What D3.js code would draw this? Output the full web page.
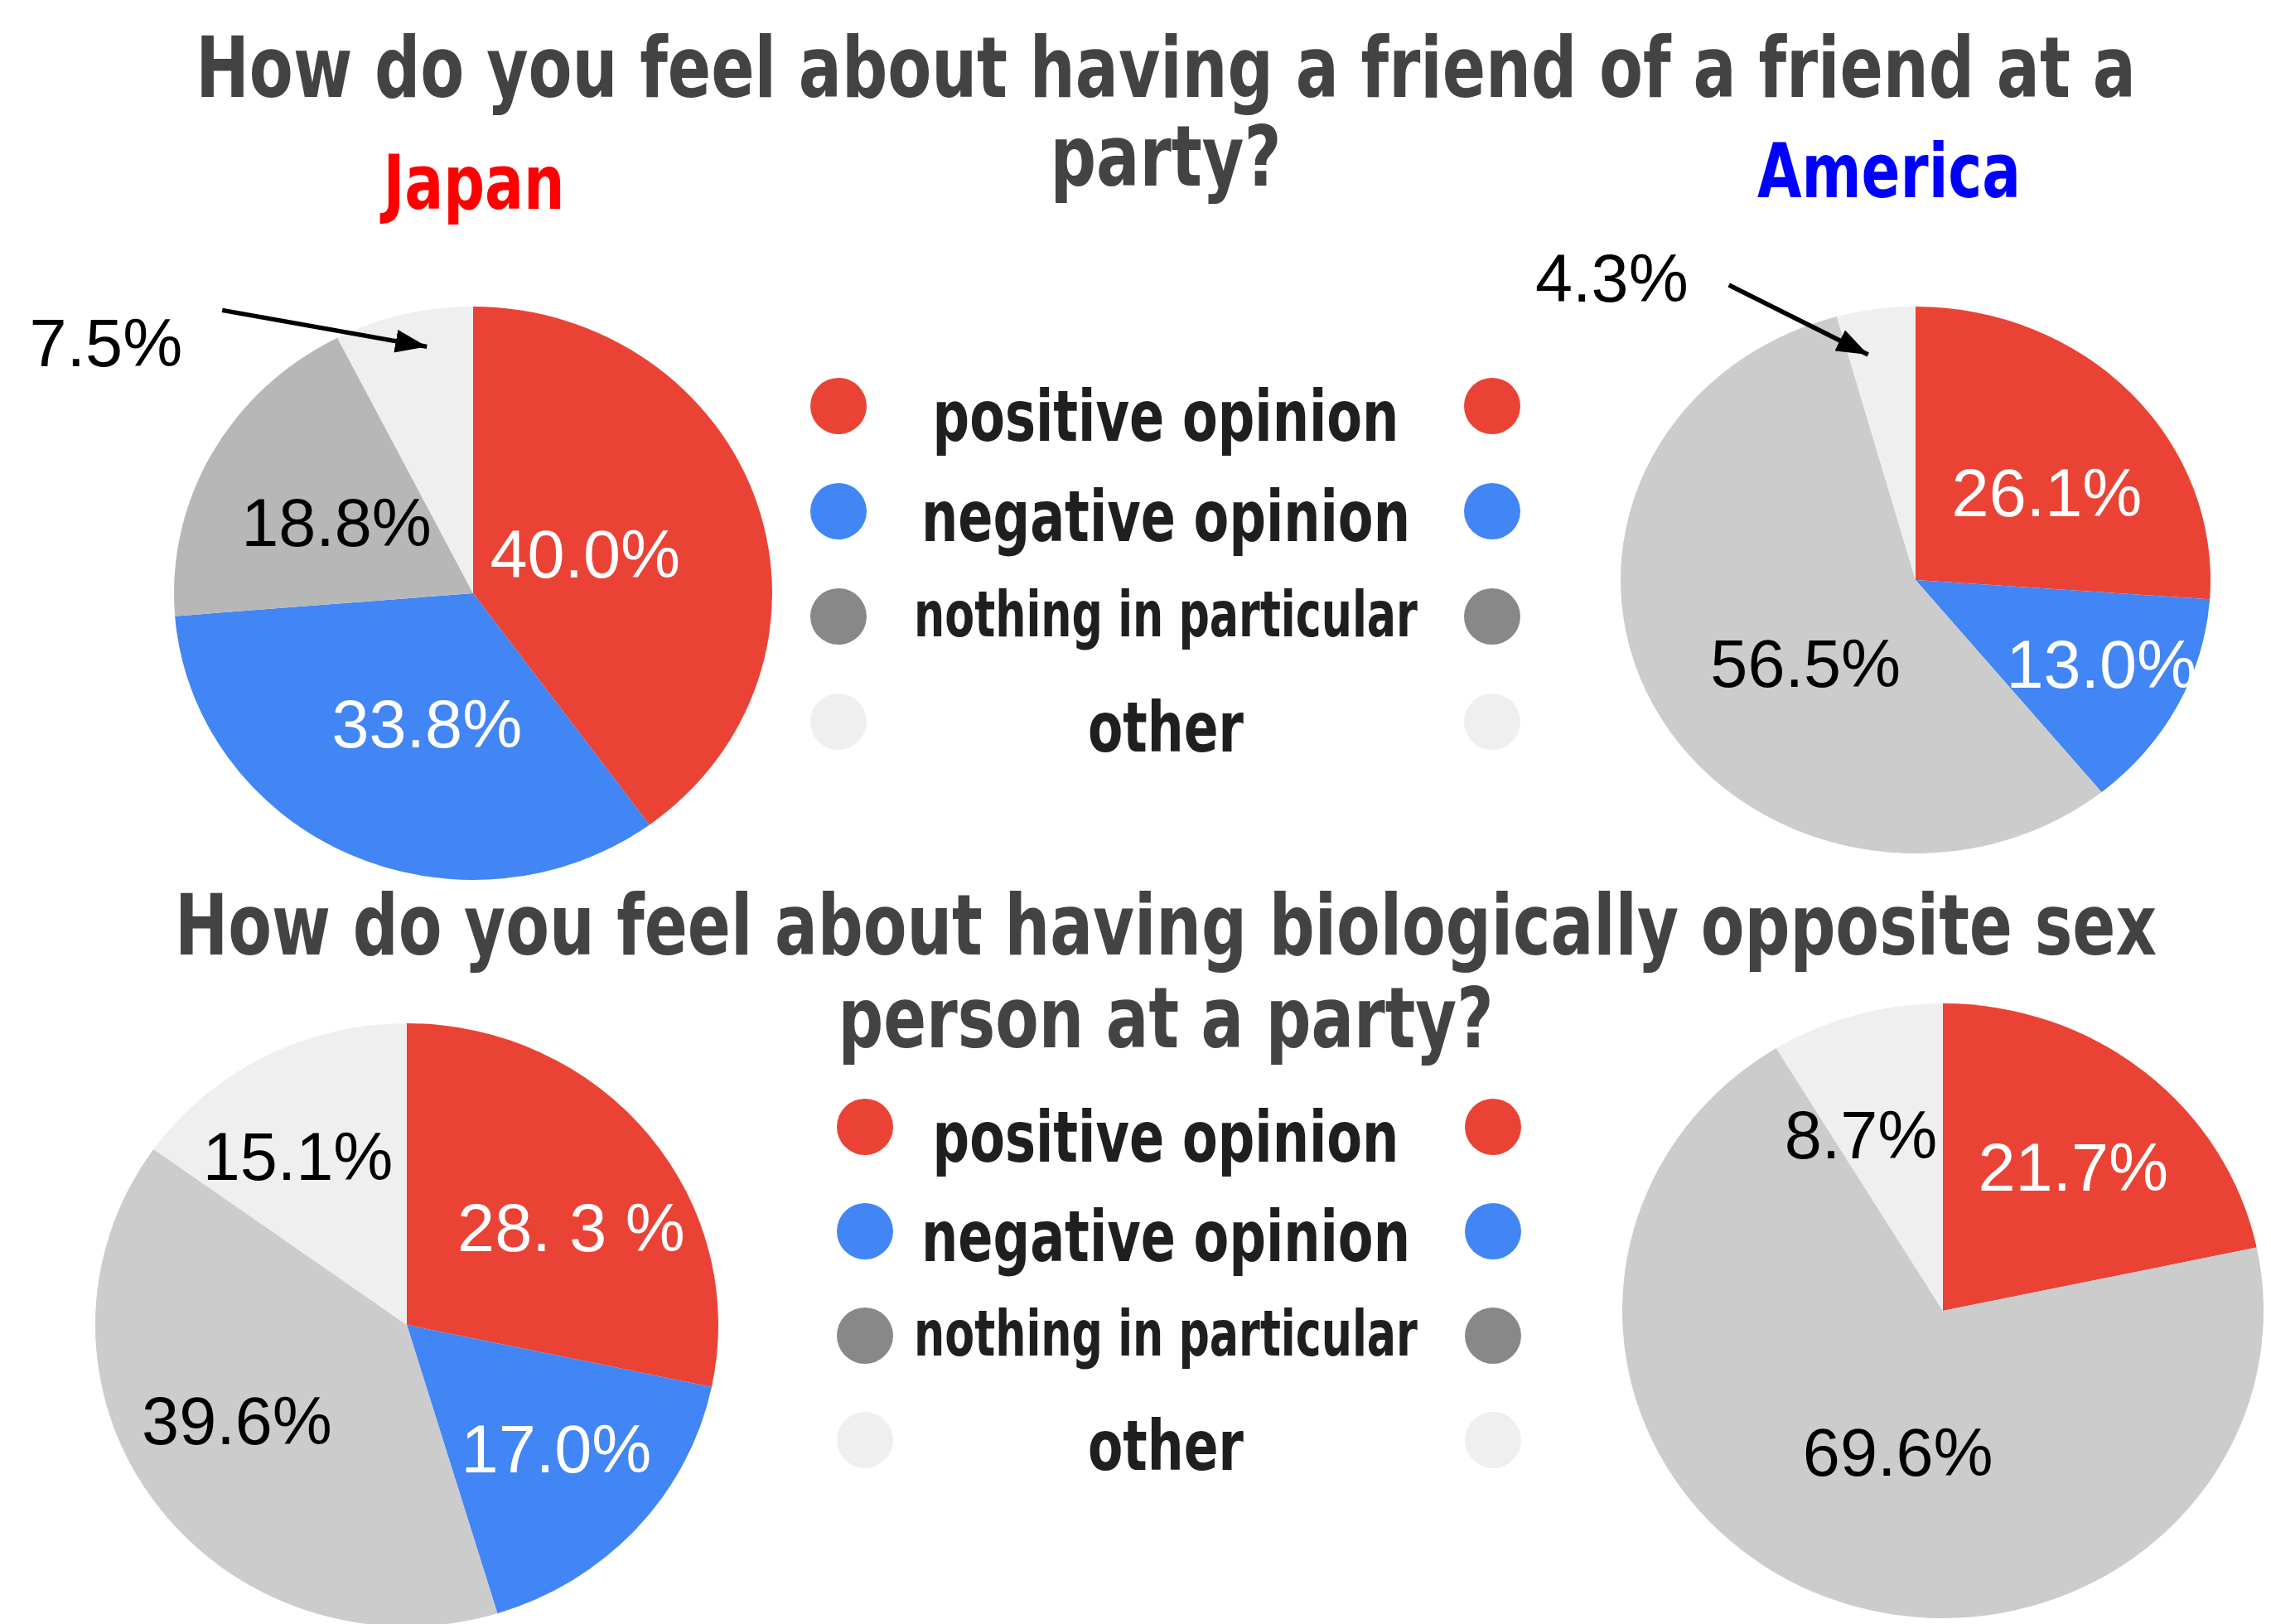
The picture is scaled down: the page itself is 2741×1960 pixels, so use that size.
<!DOCTYPE html>
<html>
<head>
<meta charset="utf-8">
<script src="https://cdn.jsdelivr.net/npm/d3@7"></script>
<style>
  html, body { margin: 0; padding: 0; background: #fff; }
  svg { display: block; }
</style>
</head>
<body>
<svg id="chart"></svg>
<script>
// ---- data ----
const categories = ["positive opinion", "negative opinion", "nothing in particular", "other"];
const countries = ["Japan", "America"];
const questionFriend = ["How do you feel about having a friend of a friend at a", "party?"];
const questionSex = ["How do you feel about having biologically opposite sex", "person at a party?"];

const japanFriend = [40.0, 33.8, 18.8, 7.5];
const americaFriend = [26.1, 13.0, 56.5, 4.3];
const japanSex = [28.3, 17.0, 39.6, 15.1];
const americaSex = [21.7, 0, 69.6, 8.7];

const japanFriendText = ["40.0%", "33.8%", "18.8%", "7.5%"];
const americaFriendText = ["26.1%", "13.0%", "56.5%", "4.3%"];
const japanSexText = ["28. 3 %", "17.0%", "39.6%", "15.1%"];
const americaSexText = ["21.7%", "", "69.6%", "8.7%"];

// ---- layout / style ----
const width = 2741, height = 1960;
const red = "#ea4335", blue = "#4285f4", grey = "#cccccc", light = "#efefef";
const legendColors = [red, blue, "#888888", light];

const svg = d3.select("#chart").attr("width", width).attr("height", height);

const titleFont = "'DejaVu Sans Condensed', 'DejaVu Sans', 'Liberation Sans', sans-serif";
const numFont = "'Liberation Sans', Arial, sans-serif";

// squeeze a bold label horizontally to a measured width, centred on cx
function fitText(cx, y, str, size, w, color) {
    const g = svg.append("g");
    const t = g.append("text").attr("x", 0).attr("y", 0).attr("text-anchor", "middle")
        .attr("fill", color)
        .style("font-family", titleFont).style("font-weight", "bold")
        .style("font-size", size + "px")
        .text(str);
    const natural = t.node().getComputedTextLength();
    g.attr("transform", `translate(${cx},${y}) scale(${w / natural},1)`);
    return t;
}

// titles
fitText(1407, 117, questionFriend[0], 101, 2342, "#434343");
fitText(1407, 224, questionFriend[1], 101, 279, "#434343");
fitText(1407, 1152, questionSex[0], 101, 2392, "#434343");
fitText(1407, 1264, questionSex[1], 101, 791, "#434343");

fitText(572, 252, countries[0], 90, 219, "#ff0000");
fitText(2280, 238, countries[1], 90, 318, "#0000ff");

// arrow marker
svg.append("defs").append("marker")
    .attr("id", "arrow")
    .attr("markerUnits", "userSpaceOnUse")
    .attr("viewBox", "0 0 38 28")
    .attr("markerWidth", 38).attr("markerHeight", 28)
    .attr("refX", 38).attr("refY", 14)
    .attr("orient", "auto")
  .append("path").attr("d", "M0,0L38,14L0,28Z").attr("fill", "#000");

// pies
const pies = [
    { values: japanFriend, text: japanFriendText, cx: 571, cy: 716, rx: 361, ry: 346,
      colors: [red, blue, "#b7b7b7", light],
      labels: [[0.40, -2.4], [0.48, -5.9], [0.52, -0.7], null],
      callout: { slice: 3, r: 0.874, shift: 3.3, tail: [-247, -44], text: [-48, 68] } },
    { values: americaFriend, text: americaFriendText, cx: 2312, cy: 700, rx: 356, ry: 330,
      colors: [red, blue, grey, light],
      labels: [[0.55, 7], [0.70, -1.6], [0.48, -11.7], null],
      callout: { slice: 3, r: 0.84, shift: -3.3, tail: [-168, -84], text: [-49, 20] } },
    { values: japanSex, text: japanSexText, cx: 491, cy: 1599, rx: 376, ry: 364,
      colors: [red, blue, grey, light],
      labels: [[0.62, 7.4], [0.63, -2.1], [0.63, 5.6], [0.66, -4.8]] },
    { values: americaSex, text: americaSexText, cx: 2345, cy: 1582, rx: 387, ry: 371,
      colors: [red, blue, grey, light],
      labels: [[0.62, 1.9], null, [0.48, -6.4], [0.63, -8.3]] }
];

const pie = d3.pie().sort(null).value(d => d);
const toRad = Math.PI / 180;

pies.forEach(p => {
    const arcs = pie(p.values);
    const arc = d3.arc().innerRadius(0).outerRadius(p.rx);
    const g = svg.append("g")
        .attr("transform", `translate(${p.cx},${p.cy}) scale(1,${p.ry / p.rx})`);
    g.selectAll("path").data(arcs).enter().append("path")
        .attr("d", arc)
        .attr("fill", (d, i) => p.colors[i]);

    const pt = (a, f) => [p.cx + f * p.rx * Math.sin(a), p.cy - f * p.ry * Math.cos(a)];

    arcs.forEach((d, i) => {
        const l = p.labels[i];
        if (!l || d.value === 0) return;
        const [x, y] = pt((d.startAngle + d.endAngle) / 2 + l[1] * toRad, l[0]);
        svg.append("text").attr("x", x).attr("y", y).attr("dy", "0.36em")
            .attr("text-anchor", "middle")
            .attr("fill", i < 2 ? "#fff" : "#000")
            .style("font-family", numFont).style("font-size", "81px")
            .text(p.text[i]);
    });

    if (p.callout) {
        const c = p.callout, d = arcs[c.slice];
        const [tx, ty] = pt((d.startAngle + d.endAngle) / 2 + c.shift * toRad, c.r);
        const sx = tx + c.tail[0], sy = ty + c.tail[1];
        svg.append("line").attr("x1", sx).attr("y1", sy).attr("x2", tx).attr("y2", ty)
            .attr("stroke", "#000").attr("stroke-width", 5.5).attr("marker-end", "url(#arrow)");
        svg.append("text").attr("x", sx + c.text[0]).attr("y", sy + c.text[1])
            .attr("text-anchor", "end").attr("fill", "#000")
            .style("font-family", numFont).style("font-size", "81px")
            .text(p.text[c.slice]);
    }
});

// legends
const legendStyle = [
    { size: 86, len: 563, dy: 42 },
    { size: 86, len: 590, dy: 36 },
    { size: 76, len: 608, dy: 24 },
    { size: 84, len: 188, dy: 36 }
];

function legend(top, bottom, leftX, rightX) {
    const y = d3.scalePoint().domain(categories).range([top, bottom]);
    categories.forEach((c, i) => {
        svg.append("circle").attr("cx", leftX).attr("cy", y(c)).attr("r", 34).attr("fill", legendColors[i]);
        svg.append("circle").attr("cx", rightX).attr("cy", y(c)).attr("r", 34).attr("fill", legendColors[i]);
        fitText(1407, y(c) + legendStyle[i].dy, c, legendStyle[i].size, legendStyle[i].len, "#1f1f1f");
    });
}
legend(490, 871, 1012, 1801);
legend(1360, 1738, 1044, 1802);
</script>
</body>
</html>
